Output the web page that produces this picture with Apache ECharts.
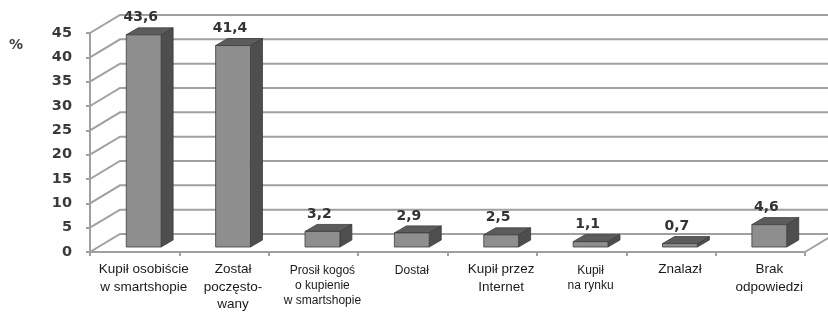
<!DOCTYPE html>
<html>
<head>
<meta charset="utf-8">
<script src="https://cdn.jsdelivr.net/npm/echarts@6/dist/echarts.min.js"></script>
<style>
  html, body { margin: 0; padding: 0; background: #fff; }
  #chart { width: 828px; height: 314px; }
</style>
</head>
<body>
<div id="chart"></div>
<script>
// dane z wykresu
var categories = [
	'Kupił osobiście\nw smartshopie',
	'Został\npoczęsto-\nwany',
	'Prosił kogoś\no kupienie\nw smartshopie',
	'Dostał',
	'Kupił przez\nInternet',
	'Kupił\nna rynku',
	'Znalazł',
	'Brak\nodpowiedzi'
];
var values = [43.6, 41.4, 3.2, 2.9, 2.5, 1.1, 0.7, 4.6];
var yTicks = [0, 5, 10, 15, 20, 25, 30, 35, 40, 45];

// perspektywa (px)
var WALL_DX = 30, WALL_DY = -18;
var BAR_OFF_X = 9, BAR_OFF_Y = -5;
var BAR_DX = 12, BAR_DY = -7;
var smallLabels = { 2: true, 3: true, 5: true };

function fmt(v) {
	return v.toFixed(1).replace('.', ',');
}

function renderWall(params, api) {
	var v = api.value(0);
	var cs = params.coordSys;
	var y = api.coord([0, v])[1];
	var x0 = cs.x, xr = cs.x + cs.width;
	var style = { stroke: '#a0a0a0', lineWidth: 2, fill: null };
	var children = [{
		type: 'polyline',
		shape: { points: [[x0, y], [x0 + WALL_DX, y + WALL_DY], [xr + WALL_DX + 10, y + WALL_DY]] },
		style: style
	}];
	if (v === 0) {
		children.push({
			type: 'line',
			shape: { x1: xr, y1: y, x2: xr + WALL_DX, y2: y + WALL_DY },
			style: style
		});
	}
	return { type: 'group', children: children };
}

function renderBar(params, api) {
	var i = api.value(0), v = api.value(1);
	var top = api.coord([i, v]);
	var base = api.coord([i, 0]);
	var w = api.size([1, 0])[0] * 0.39;
	var x = top[0] - w / 2 + BAR_OFF_X;
	var yT = top[1] + BAR_OFF_Y;
	var yB = base[1] + BAR_OFF_Y;
	var edge = { stroke: '#3c3c3c', lineWidth: 0.8 };
	return {
		type: 'group',
		children: [
			{
				type: 'polygon',
				shape: { points: [[x + w, yT], [x + w + BAR_DX, yT + BAR_DY], [x + w + BAR_DX, yB + BAR_DY], [x + w, yB]] },
				style: { fill: '#4e4e4e', stroke: edge.stroke, lineWidth: edge.lineWidth }
			},
			{
				type: 'polygon',
				shape: { points: [[x, yT], [x + BAR_DX, yT + BAR_DY], [x + w + BAR_DX, yT + BAR_DY], [x + w, yT]] },
				style: { fill: '#5c5c5c', stroke: edge.stroke, lineWidth: edge.lineWidth }
			},
			{
				type: 'rect',
				shape: { x: x, y: yT, width: w, height: yB - yT },
				style: { fill: '#8e8e8e', stroke: edge.stroke, lineWidth: edge.lineWidth }
			},
			{
				type: 'text',
				style: {
					x: x + w / 2 - 3, y: yT - 17,
					text: fmt(v),
					align: 'center', verticalAlign: 'middle',
					font: 'bold 14px "DejaVu Sans"',
					fill: '#333333'
				}
			}
		]
	};
}

var myChart = echarts.init(document.getElementById('chart'));
var option = {
	backgroundColor: '#ffffff',
	animation: false,
	grid: { left: 90, right: 23, top: 33, bottom: 62 },
	graphic: [{
		type: 'text',
		left: 9, top: 38,
		style: { text: '%', font: 'bold 14px "DejaVu Sans"', fill: '#404040' }
	}],
	xAxis: {
		type: 'category',
		data: categories,
		axisLine: { lineStyle: { color: '#a0a0a0', width: 2 } },
		axisTick: { show: true, length: 4, lineStyle: { color: '#a0a0a0', width: 2 } },
		axisLabel: {
			interval: 0,
			margin: 9,
			padding: [0, 0, 0, 18],
			formatter: function (value, index) {
				var key = smallLabels[index] ? 's' : 'b';
				return value.split('\n').map(function (l) { return '{' + key + '|' + l + '}'; }).join('\n');
			},
			rich: {
				b: { fontSize: 13.5, lineHeight: 17.5, fontFamily: 'Liberation Sans', color: '#1a1a1a' },
				s: { fontSize: 12, lineHeight: 15, fontFamily: 'Liberation Sans', color: '#1a1a1a', padding: [4, 0, 0, 0] }
			}
		}
	},
	yAxis: {
		type: 'value',
		min: 0,
		max: 45,
		interval: 5,
		axisLine: { show: true, lineStyle: { color: '#a0a0a0', width: 2 } },
		axisTick: { show: true, length: 4, lineStyle: { color: '#a0a0a0', width: 2 } },
		splitLine: { show: false },
		axisLabel: {
			margin: 18,
			fontFamily: 'DejaVu Sans',
			fontWeight: 'bold',
			fontSize: 14.5,
			color: '#3a3a3a'
		}
	},
	series: [
		{
			type: 'custom',
			name: 'walls',
			renderItem: renderWall,
			data: yTicks.map(function (t) { return [t]; }),
			encode: { y: 0 },
			z: 1,
			silent: true
		},
		{
			type: 'custom',
			name: 'procent',
			renderItem: renderBar,
			data: values.map(function (v, i) { return [i, v]; }),
			encode: { x: 0, y: 1 },
			z: 3
		}
	]
};
myChart.setOption(option);
</script>
</body>
</html>
